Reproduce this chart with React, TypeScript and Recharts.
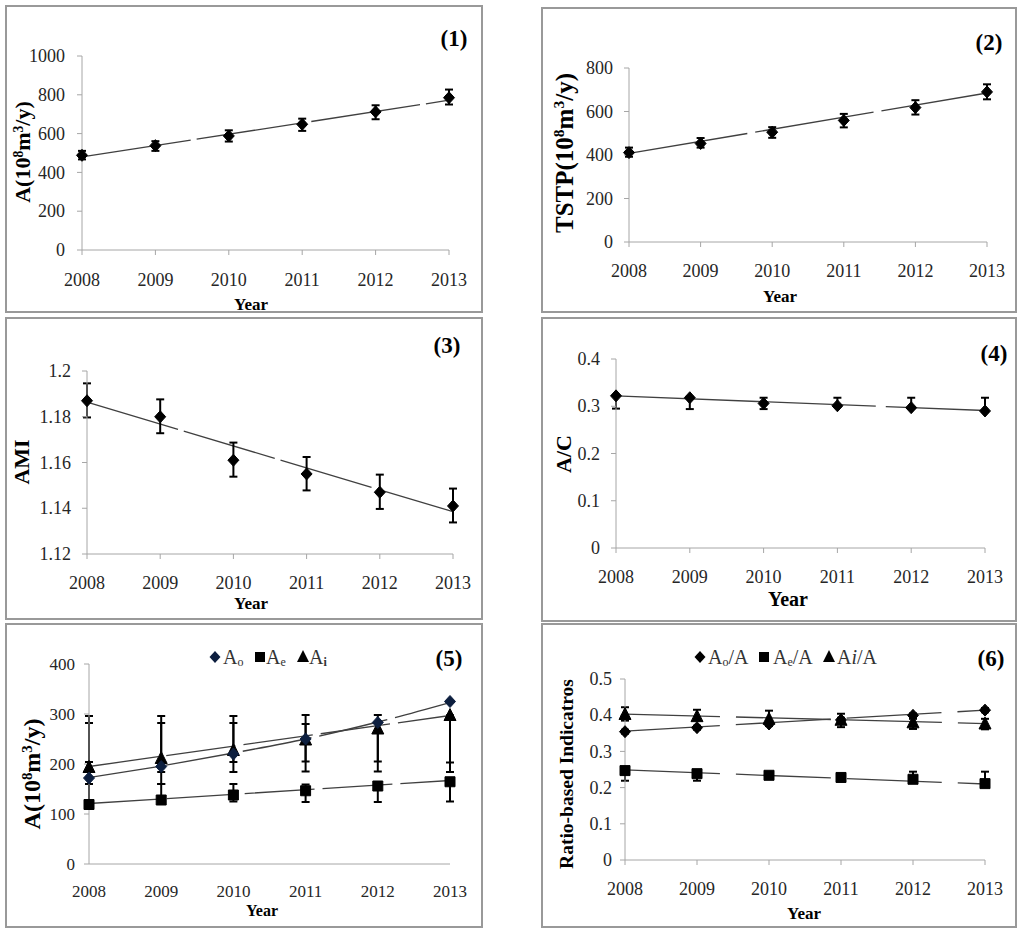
import React from "react";
import { ComposedChart, Line, XAxis, YAxis, ErrorBar } from "recharts";

const FONT = '"Liberation Serif", "Times New Roman", serif';

const years = [2008, 2009, 2010, 2011, 2012, 2013];

// (1) A
const aValue = [488, 538, 588, 648, 712, 785];
const aLow = [467, 511, 559, 614, 674, 750];
const aHigh = [511, 561, 617, 677, 746, 827];
const aTrend = [480, null, null, null, null, 772];

// (2) TSTP
const tstpValue = [411, 453, 505, 559, 618, 690];
const tstpLow = [392, 434, 479, 527, 586, 656];
const tstpHigh = [434, 478, 528, 589, 652, 725];
const tstpTrend = [407, null, null, null, null, 685];

// (3) AMI
const amiValue = [1.187, 1.18, 1.161, 1.155, 1.147, 1.141];
const amiLow = [1.1797, 1.1728, 1.1538, 1.1478, 1.1397, 1.1338];
const amiHigh = [1.1946, 1.1876, 1.1687, 1.1624, 1.1547, 1.1486];
const amiTrend = [1.1864, null, null, null, null, 1.1385];

// (4) A/C
const acValue = [0.322, 0.318, 0.306, 0.301, 0.297, 0.29];
const acLow = [0.295, 0.294, 0.294, 0.299, 0.295, 0.288];
const acHigh = [0.323, 0.32, 0.318, 0.318, 0.318, 0.318];
const acTrend = [0.322, null, null, null, null, 0.291];

// (5) Ao, Ae, Ai
const aoValue = [172, 195, 220, 250, 283, 325];
const aoLow = [160, 160, 184, 185, 185, 184];
const aoHigh = [282, 282, 282, 280, 282, 297];
const aoTrend = [173, 196, 222, 250, 284, 323];

const aeValue = [119, 128, 138, 146.5, 156, 164.5];
const aeLow = [119, 128, 125, 124, 124, 125];
const aeHigh = [160, 160, 160, 159, 159, 165];
const aeTrend = [121, null, null, null, null, 167];

const aiValue = [193, 211, 227, 248, 270, 297];
const aiLow = [204, 184, 204, 205, 205, 203];
const aiHigh = [296, 296, 296, 298, 298, 297];
const aiTrend = [195, null, null, null, null, 297];

// (6) ratios
const aoRatio = [0.3545, 0.3656, 0.3757, 0.387, 0.3996, 0.414];
const aoRatioLow = [0.349, 0.36, 0.37, 0.381, 0.394, 0.408];
const aoRatioHigh = [0.36, 0.371, 0.381, 0.393, 0.405, 0.42];
const aoRatioTrend = [0.356, null, null, null, null, 0.414];

const aeRatio = [0.247, 0.2385, 0.234, 0.228, 0.223, 0.211];
const aeRatioLow = [0.219, 0.219, 0.226, 0.222, 0.215, 0.205];
const aeRatioHigh = [0.25, 0.245, 0.24, 0.235, 0.244, 0.244];
const aeRatioTrend = [0.249, null, null, null, null, 0.21];

const aiRatio = [0.402, 0.396, 0.389, 0.386, 0.379, 0.3757];
const aiRatioLow = [0.385, 0.39, 0.38, 0.367, 0.362, 0.361];
const aiRatioHigh = [0.422, 0.415, 0.4125, 0.404, 0.39, 0.39];
const aiRatioTrend = [0.403, null, null, null, null, 0.377];

type Shape = "diamond" | "square" | "triangle";

interface Series {
  key: string;
  values: number[];
  low: number[];
  high: number[];
  trend: (number | null)[];
  shape: Shape;
  fill: string;
  curve?: boolean;
}

function buildRows(series: Series[]) {
  return years.map((year, i) => {
    const row: any = { year };
    series.forEach((s) => {
      row[s.key] = s.values[i];
      row[s.key + "Err"] = [s.values[i] - s.low[i], s.high[i] - s.values[i]];
      row[s.key + "Trend"] = s.trend[i];
    });
    return row;
  });
}

function markerPath(shape: Shape, cx: number, cy: number) {
  if (shape === "diamond")
    return `M${cx},${cy - 6}L${cx + 5.5},${cy}L${cx},${cy + 6}L${cx - 5.5},${cy}Z`;
  if (shape === "square")
    return `M${cx - 5},${cy - 5}L${cx + 5},${cy - 5}L${cx + 5},${cy + 5}L${cx - 5},${cy + 5}Z`;
  return `M${cx},${cy - 7}L${cx + 6},${cy + 5}L${cx - 6},${cy + 5}Z`;
}

function makeDot(shape: Shape, fill: string) {
  return (props: any) => {
    const { cx, cy, index } = props;
    if (cx == null || cy == null) return <g key={`e-${index}`} />;
    return <path key={`m-${index}`} d={markerPath(shape, cx, cy)} fill={fill} stroke={fill} />;
  };
}

function Marker({ shape, fill, size = 14 }: { shape: Shape; fill: string; size?: number }) {
  return (
    <svg width={size} height={size} style={{ display: "block" }}>
      <path d={markerPath(shape, size / 2, size / 2)} fill={fill} />
    </svg>
  );
}

function makeTick(size: number, axis: "x" | "y") {
  return (props: any) => {
    const { x, y, payload } = props;
    return (
      <text
        x={x}
        y={y}
        dy={axis === "x" ? "0.71em" : "0.34em"}
        textAnchor={axis === "x" ? "middle" : "end"}
        fill="#262626"
        fontSize={size}
        fontFamily={FONT}
      >
        {payload.value}
      </text>
    );
  };
}

interface PanelCfg {
  tag: string;
  box: { x: number; y: number; w: number; h: number };
  plot: { x0: number; x1: number; y0: number; y1: number };
  domain: [number, number];
  ticks: number[];
  tickFont: number;
  xTickMargin: number;
  yTickMargin: number;
  xTickLine?: boolean;
  series: Series[];
  yLabel: React.ReactNode;
  yLabelPos: [number, number];
  yLabelFont: number;
  yearPos: [number, number];
  yearFont: number;
  tagPos: [number, number];
  dash: string;
  legend?: { shape: Shape; fill: string; cx: number; tx: number; label: React.ReactNode }[];
  legendY?: number;
  legendFont?: number;
}

const sup = (t: string) => (
  <span style={{ fontSize: "0.62em", verticalAlign: "0.55em", lineHeight: 0 }}>{t}</span>
);
const sub = (t: string, bold = false) => (
  <span style={{ fontSize: "0.6em", verticalAlign: "-0.2em", lineHeight: 0, fontWeight: bold ? 700 : 400 }}>{t}</span>
);

const unitLabel = (prefix: string) => (
  <>
    {prefix}(10{sup("8")}m{sup("3")}/y)
  </>
);

const NAVY = "#0d1f3f";

const panels: PanelCfg[] = [
  {
    tag: "(1)",
    box: { x: 5, y: 5, w: 478, h: 308 },
    plot: { x0: 82, x1: 449, y0: 56, y1: 250 },
    domain: [0, 1000],
    ticks: [0, 200, 400, 600, 800, 1000],
    tickFont: 18,
    xTickMargin: 18,
    yTickMargin: 12,
    series: [
      { key: "a", values: aValue, low: aLow, high: aHigh, trend: aTrend, shape: "diamond", fill: "#000" },
    ],
    yLabel: unitLabel("A"),
    yLabelPos: [23, 152],
    yLabelFont: 22,
    yearPos: [251, 304],
    yearFont: 17,
    tagPos: [454, 38],
    dash: "110 6",
  },
  {
    tag: "(2)",
    box: { x: 541, y: 7, w: 476, h: 306 },
    plot: { x0: 629, x1: 987, y0: 68, y1: 242 },
    domain: [0, 800],
    ticks: [0, 200, 400, 600, 800],
    tickFont: 18,
    xTickMargin: 17,
    yTickMargin: 11,
    series: [
      { key: "t", values: tstpValue, low: tstpLow, high: tstpHigh, trend: tstpTrend, shape: "diamond", fill: "#000" },
    ],
    yLabel: unitLabel("TSTP"),
    yLabelPos: [564, 153],
    yLabelFont: 25,
    yearPos: [780, 296],
    yearFont: 17,
    tagPos: [989, 42],
    dash: "120 8",
  },
  {
    tag: "(3)",
    box: { x: 5, y: 317, w: 478, h: 303 },
    plot: { x0: 87, x1: 453, y0: 371, y1: 554 },
    domain: [1.12, 1.2],
    ticks: [1.12, 1.14, 1.16, 1.18, 1.2],
    tickFont: 18,
    xTickMargin: 17,
    yTickMargin: 11,
    series: [
      { key: "m", values: amiValue, low: amiLow, high: amiHigh, trend: amiTrend, shape: "diamond", fill: "#000" },
    ],
    yLabel: "AMI",
    yLabelPos: [22, 462],
    yLabelFont: 22,
    yearPos: [251, 603],
    yearFont: 17,
    tagPos: [447, 345],
    dash: "95 6",
  },
  {
    tag: "(4)",
    box: { x: 541, y: 317, w: 476, h: 305 },
    plot: { x0: 616, x1: 985, y0: 359, y1: 548 },
    domain: [0, 0.4],
    ticks: [0, 0.1, 0.2, 0.3, 0.4],
    tickFont: 18,
    xTickMargin: 17,
    yTickMargin: 11,
    series: [
      { key: "c", values: acValue, low: acLow, high: acHigh, trend: acTrend, shape: "diamond", fill: "#000" },
    ],
    yLabel: "A/C",
    yLabelPos: [564, 454],
    yLabelFont: 22,
    yearPos: [788, 599],
    yearFont: 20,
    tagPos: [994, 353],
    dash: "260 10",
  },
  {
    tag: "(5)",
    box: { x: 5, y: 623, w: 478, h: 305 },
    plot: { x0: 89, x1: 450, y0: 664, y1: 864 },
    domain: [0, 400],
    ticks: [0, 100, 200, 300, 400],
    tickFont: 17,
    xTickMargin: 21,
    yTickMargin: 9,
    xTickLine: false,
    series: [
      { key: "ai", values: aiValue, low: aiLow, high: aiHigh, trend: aiTrend, shape: "triangle", fill: "#000" },
      { key: "ae", values: aeValue, low: aeLow, high: aeHigh, trend: aeTrend, shape: "square", fill: "#000" },
      { key: "ao", values: aoValue, low: aoLow, high: aoHigh, trend: aoTrend, shape: "diamond", fill: NAVY, curve: true },
    ],
    yLabel: unitLabel("A"),
    yLabelPos: [32, 774],
    yLabelFont: 24,
    yearPos: [262, 911],
    yearFont: 16,
    tagPos: [449, 658],
    dash: "70 8",
    legend: [
      { shape: "diamond", fill: NAVY, cx: 215, tx: 223, label: <>A{sub("o")}</> },
      { shape: "square", fill: "#000", cx: 260, tx: 266, label: <>A{sub("e")}</> },
      { shape: "triangle", fill: "#000", cx: 303, tx: 309, label: <>A{sub("i", true)}</> },
    ],
    legendY: 657,
    legendFont: 20,
  },
  {
    tag: "(6)",
    box: { x: 541, y: 623, w: 476, h: 305 },
    plot: { x0: 625, x1: 985, y0: 679, y1: 860 },
    domain: [0, 0.5],
    ticks: [0, 0.1, 0.2, 0.3, 0.4, 0.5],
    tickFont: 18,
    xTickMargin: 17,
    yTickMargin: 8,
    series: [
      { key: "ri", values: aiRatio, low: aiRatioLow, high: aiRatioHigh, trend: aiRatioTrend, shape: "triangle", fill: "#000" },
      { key: "re", values: aeRatio, low: aeRatioLow, high: aeRatioHigh, trend: aeRatioTrend, shape: "square", fill: "#000" },
      { key: "ro", values: aoRatio, low: aoRatioLow, high: aoRatioHigh, trend: aoRatioTrend, shape: "diamond", fill: "#000" },
    ],
    yLabel: "Ratio-based Indicatros",
    yLabelPos: [567, 774],
    yLabelFont: 19.5,
    yearPos: [804, 913],
    yearFont: 17,
    tagPos: [991, 658],
    dash: "95 16",
    legend: [
      { shape: "diamond", fill: "#000", cx: 700, tx: 708, label: <>A{sub("o")}/A</> },
      { shape: "square", fill: "#000", cx: 764, tx: 773, label: <>A{sub("e")}/A</> },
      { shape: "triangle", fill: "#000", cx: 829, tx: 837, label: <>A<i>i</i>/A</> },
    ],
    legendY: 657,
    legendFont: 20,
  },
];

const AXIS = "#a6a6a6";

function Panel({ cfg }: { cfg: PanelCfg }) {
  const { box, plot } = cfg;
  const yW = 60;
  const xH = 40;
  const margin = {
    left: plot.x0 - box.x - yW,
    top: plot.y0 - box.y,
    right: box.x + box.w - plot.x1,
    bottom: box.y + box.h - plot.y1 - xH,
  };
  const rows = buildRows(cfg.series);
  const center: React.CSSProperties = {
    position: "absolute",
    whiteSpace: "nowrap",
    lineHeight: 1,
    fontFamily: FONT,
    color: "#000",
  };

  return (
    <>
      <div
        style={{
          position: "absolute",
          left: box.x,
          top: box.y,
          width: box.w,
          height: box.h,
          border: "2px solid #999",
          boxSizing: "border-box",
        }}
      />
      <div style={{ position: "absolute", left: box.x, top: box.y }}>
        <ComposedChart width={box.w} height={box.h} data={rows} margin={margin}>
          <XAxis
            type="number"
            dataKey="year"
            domain={[2008, 2013]}
            ticks={years}
            interval={0}
            height={xH}
            tickSize={cfg.xTickLine === false ? 0 : 5}
            tickMargin={cfg.xTickMargin}
            axisLine={{ stroke: AXIS }}
            tickLine={cfg.xTickLine === false ? false : { stroke: AXIS }}
            tick={makeTick(cfg.tickFont, "x")}
          />
          <YAxis
            type="number"
            domain={cfg.domain}
            ticks={cfg.ticks}
            interval={0}
            width={yW}
            tickSize={5}
            tickMargin={cfg.yTickMargin}
            axisLine={{ stroke: AXIS }}
            tickLine={{ stroke: AXIS }}
            tick={makeTick(cfg.tickFont, "y")}
            allowDataOverflow
          />
          {cfg.series.map((s) => (
            <Line
              key={s.key + "Trend"}
              type={s.curve ? "monotone" : "linear"}
              dataKey={s.key + "Trend"}
              stroke="#404040"
              strokeWidth={1.3}
              strokeDasharray={cfg.dash}
              connectNulls
              dot={false}
              activeDot={false}
              isAnimationActive={false}
            />
          ))}
          {cfg.series.map((s) => (
            <Line
              key={s.key}
              dataKey={s.key}
              stroke="none"
              dot={makeDot(s.shape, s.fill)}
              activeDot={false}
              isAnimationActive={false}
            >
              <ErrorBar
                dataKey={s.key + "Err"}
                direction="y"
                width={4}
                stroke="#000"
                strokeWidth={2}
                isAnimationActive={false}
              />
            </Line>
          ))}
        </ComposedChart>
      </div>
      <div
        style={{
          ...center,
          left: cfg.yLabelPos[0],
          top: cfg.yLabelPos[1],
          fontSize: cfg.yLabelFont,
          fontWeight: 700,
          transform: "translate(-50%, -50%) rotate(-90deg)",
        }}
      >
        {cfg.yLabel}
      </div>
      <div
        style={{
          ...center,
          left: cfg.yearPos[0],
          top: cfg.yearPos[1],
          fontSize: cfg.yearFont,
          fontWeight: 700,
          transform: "translate(-50%, -50%)",
        }}
      >
        Year
      </div>
      <div
        style={{
          ...center,
          left: cfg.tagPos[0],
          top: cfg.tagPos[1],
          fontSize: 23,
          fontWeight: 700,
          transform: "translate(-50%, -50%)",
        }}
      >
        {cfg.tag}
      </div>
      {cfg.legend &&
        cfg.legend.map((item, i) => (
          <React.Fragment key={i}>
            <div
              style={{
                position: "absolute",
                left: item.cx - 7,
                top: (cfg.legendY || 0) - 7,
              }}
            >
              <Marker shape={item.shape} fill={item.fill} />
            </div>
            <div
              style={{
                ...center,
                left: item.tx,
                top: cfg.legendY,
                fontSize: cfg.legendFont,
                color: "#333",
                transform: "translate(0, -50%)",
              }}
            >
              {item.label}
            </div>
          </React.Fragment>
        ))}
    </>
  );
}

export default function App() {
  return (
    <div
      style={{
        position: "absolute",
        left: 0,
        top: 0,
        width: 1024,
        height: 935,
        background: "#fff",
        overflow: "hidden",
      }}
    >
      {panels.map((p) => (
        <Panel key={p.tag} cfg={p} />
      ))}
    </div>
  );
}
